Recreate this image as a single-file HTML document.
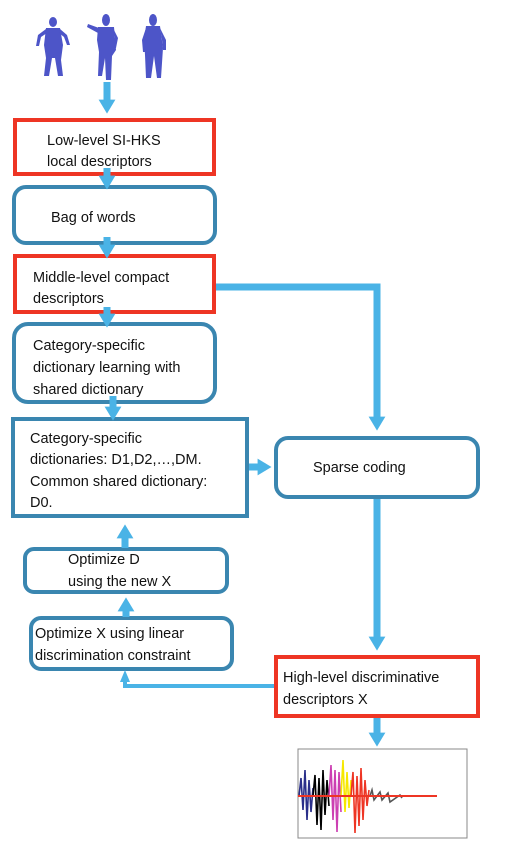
<!DOCTYPE html>
<html><head><meta charset="utf-8"><style>
html,body{margin:0;padding:0;background:#fff}
svg{display:block}
text{font-family:"Liberation Sans",sans-serif;font-size:14.5px;fill:#111}
</style></head><body>
<svg width="517" height="853" viewBox="0 0 517 853" xmlns="http://www.w3.org/2000/svg">
<defs>
<marker id="ah" markerWidth="2" markerHeight="2.4" refX="1.2" refY="1.2" orient="auto" markerUnits="strokeWidth">
<path d="M0,0 L2,1.2 L0,2.4 z" fill="#4ab3e6"/></marker>
</defs>
<!-- human figures -->
<g fill="#4d55c8">
<ellipse cx="53" cy="22" rx="4" ry="5"/>
<path d="M46,28 L60,28 L63,45 L61,60 L63,76 L58,76 L55,58 L52,58 L49,76 L44,76 L46,58 L44,45 Z"/>
<path d="M46,29 L38,35 L36,46 L39,46 L41,37 L47,33 Z"/>
<path d="M60,29 L67,35 L70,45 L67,45 L64,37 L59,33 Z"/>
<ellipse cx="106" cy="20" rx="4" ry="6"/>
<path d="M98,27 L114,27 L116,50 L112,56 L111,80 L106,80 L105,58 L102,76 L98,76 L99,52 L97,40 Z"/>
<path d="M99,28 L88,24 L87,27 L98,33 Z"/>
<path d="M113,28 L118,38 L116,48 L114,48 L115,38 Z"/>
<ellipse cx="153" cy="20" rx="4" ry="6"/>
<path d="M146,26 L160,26 L163,48 L161,78 L157,78 L154,56 L151,78 L146,78 L145,55 L144,40 Z"/>
<path d="M146,28 L142,40 L143,52 L145,52 L145,40 Z"/>
<path d="M160,28 L166,40 L166,50 L163,50 L162,40 Z"/>
</g>
<g stroke="#4ab3e6" stroke-width="7" fill="none">
<polyline points="215,287 377,287 377,425" marker-end="url(#ah)"/>
<line x1="377" y1="498" x2="377" y2="645" marker-end="url(#ah)"/>
<polyline points="276,686 125,686 125,680" stroke-width="4"/>
</g>
<!-- boxes -->
<g fill="#fff" stroke-width="4">
<rect x="15" y="120" width="199" height="54" stroke="#ee3524"/>
<rect x="14" y="187" width="201" height="56" rx="12" stroke="#3a86b0"/>
<rect x="15" y="256" width="199" height="56" stroke="#ee3524"/>
<rect x="14" y="324" width="201" height="78" rx="14" stroke="#3a86b0"/>
<rect x="13" y="419" width="234" height="97" stroke="#3a86b0"/>
<rect x="276" y="438" width="202" height="59" rx="12" stroke="#3a86b0"/>
<rect x="25" y="549" width="202" height="43" rx="9" stroke="#3a86b0"/>
<rect x="31" y="618" width="201" height="51" rx="10" stroke="#3a86b0"/>
<rect x="276" y="657" width="202" height="59" stroke="#ee3524"/>
</g>
<g stroke="#4ab3e6" stroke-width="7" fill="none">
<line x1="107" y1="82" x2="107" y2="108" marker-end="url(#ah)"/>
<line x1="107" y1="168" x2="107" y2="184" marker-end="url(#ah)"/>
<line x1="107" y1="237" x2="107" y2="253" marker-end="url(#ah)"/>
<line x1="107" y1="307" x2="107" y2="322" marker-end="url(#ah)"/>
<line x1="113" y1="396" x2="113" y2="415" marker-end="url(#ah)"/>
<line x1="249" y1="467" x2="266" y2="467" marker-end="url(#ah)"/>
<line x1="377" y1="718" x2="377" y2="741" marker-end="url(#ah)"/>
<line x1="125" y1="548" x2="125" y2="530" marker-end="url(#ah)"/>
<line x1="126" y1="617" x2="126" y2="603" marker-end="url(#ah)"/>
</g>
<path d="M120,682 L125,670 L130,682 z" fill="#4ab3e6"/>
<text x="47" y="145">Low-level SI-HKS</text>
<text x="47" y="166">local descriptors</text>
<text x="51" y="222">Bag of words</text>
<text x="33" y="282">Middle-level compact</text>
<text x="33" y="303">descriptors</text>
<text x="33" y="350">Category-specific</text>
<text x="33" y="372">dictionary learning with</text>
<text x="33" y="394">shared dictionary</text>
<text x="30" y="443">Category-specific</text>
<text x="30" y="464">dictionaries: D1,D2,…,DM.</text>
<text x="30" y="486">Common shared dictionary:</text>
<text x="30" y="507">D0.</text>
<text x="313" y="472">Sparse coding</text>
<text x="68" y="564">Optimize D</text>
<text x="68" y="586">using the new X</text>
<text x="35" y="638">Optimize X using linear</text>
<text x="35" y="660">discrimination constraint</text>
<text x="283" y="682">High-level discriminative</text>
<text x="283" y="704">descriptors X</text>
<!-- chart -->
<rect x="298" y="749" width="169" height="89" fill="none" stroke="#888" stroke-width="1"/>
<g stroke-width="1.6" fill="none">
<path d="M299,796 L301,778 L303,810 L305,770 L307,820 L309,780 L311,812 L313,788" stroke="#2a2f8a"/>
<path d="M313,796 L315,775 L317,825 L319,778 L321,830 L323,770 L325,815 L327,780 L329,806" stroke="#000"/>
<path d="M329,796 L331,765 L333,820 L335,770 L337,832 L339,772 L341,812" stroke="#cc3fb2"/>
<path d="M341,796 L343,760 L345,812 L347,772 L349,808 L351,780" stroke="#f6e800"/>
<path d="M351,796 L353,772 L355,833 L357,776 L359,826 L361,768 L363,820 L365,780 L367,806 L369,790" stroke="#ee3524"/>
<path d="M370,796 L372,790 L374,800 L380,792 L382,800 L388,793 L390,802 L400,795 L402,798" stroke="#555"/>
</g>
<line x1="298" y1="796" x2="437" y2="796" stroke="#ee3524" stroke-width="2"/>
</svg>
</body></html>
